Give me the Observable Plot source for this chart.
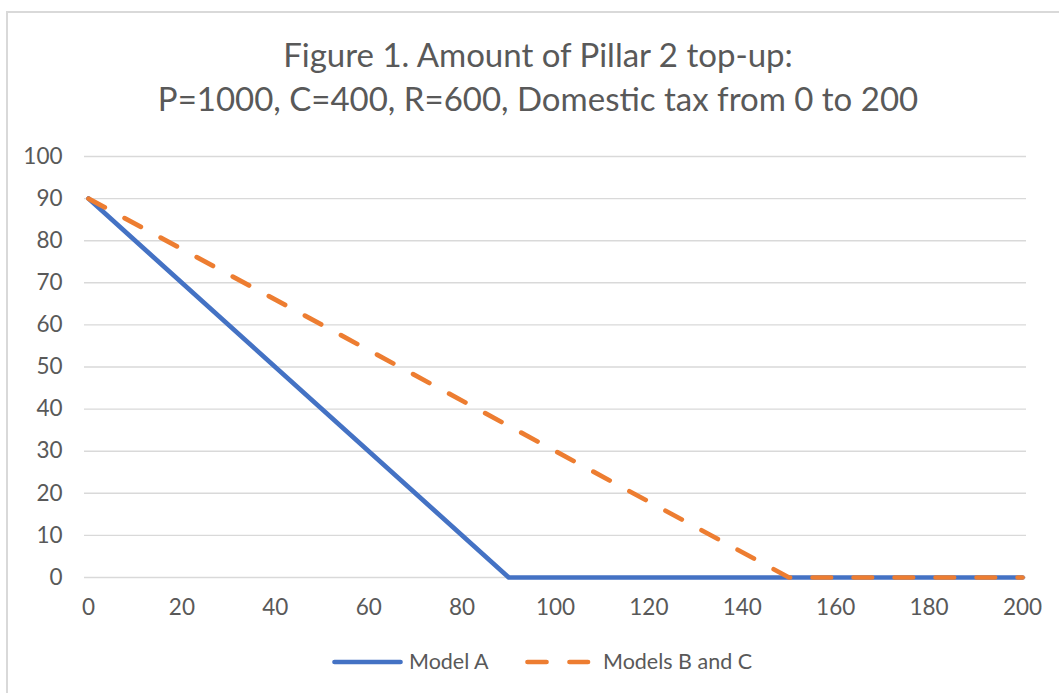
<!DOCTYPE html>
<html>
<head>
<meta charset="utf-8">
<script src="https://cdn.jsdelivr.net/npm/d3@7"></script>
<script src="https://cdn.jsdelivr.net/npm/@observablehq/plot@0.6"></script>
<style>
  html, body { margin: 0; padding: 0; background: #fff; }
  #wrap { position: relative; width: 1059px; height: 693px; overflow: hidden; font-family: Lato, "Open Sans", sans-serif; }
  #border { position: absolute; left: 6px; top: 11px; width: 1100px; height: 720px; border: 2px solid #d9d9d9; box-sizing: border-box; }
  .title { position: absolute; left: 0; width: 1076px; text-align: center; font-size: 33px; line-height: 44px; color: #595959; white-space: nowrap; }
  #chart { position: absolute; left: 0; top: 0; }
  #legend { position: absolute; left: 0; top: 640px; }
</style>
</head>
<body>
<div id="wrap">
  <div id="border"></div>
  <div id="chart"></div>
  <div class="title" id="t1" style="top:32px"></div>
  <div class="title" id="t2" style="top:76px"></div>
  <svg id="legend" width="1059" height="45"></svg>
</div>
<script>
const titleLines = ["Figure 1. Amount of Pillar 2 top-up:", "P=1000, C=400, R=600, Domestic tax from 0 to 200"];
const seriesNames = ["Model A", "Models B and C"];
const seriesColors = ["#4472C4", "#ED7D31"];
const xTicks = [0, 20, 40, 60, 80, 100, 120, 140, 160, 180, 200];
const yTicks = [0, 10, 20, 30, 40, 50, 60, 70, 80, 90, 100];
// Domestic tax (x) and top-up (y)
const modelAX = [0, 90, 200];
const modelAY = [90, 0, 0];
const modelBCX = [0, 150, 200];
const modelBCY = [90, 0, 0];

document.getElementById("t1").textContent = titleLines[0];
document.getElementById("t2").textContent = titleLines[1];

const modelA = modelAX.map((x, i) => ({x, y: modelAY[i]}));
const modelBC = modelBCX.map((x, i) => ({x, y: modelBCY[i]}));

const chart = Plot.plot({
  width: 1059,
  height: 693,
  marginLeft: 88,
  marginRight: 37,
  marginTop: 156,
  marginBottom: 116,
  style: { fontFamily: "Lato, 'Open Sans', sans-serif", fontSize: "22.5px", color: "#595959", background: "transparent", overflow: "visible" },
  x: { domain: [0, 200] },
  y: { domain: [0, 100] },
  marks: [
    Plot.ruleY(yTicks, { stroke: "#d9d9d9", strokeWidth: 1.4, insetLeft: -4, insetRight: -4 }),
    Plot.axisY(yTicks, { tickSize: 0, tickPadding: 26, label: null, fontSize: 22.5 }),
    Plot.axisX(xTicks, { tickSize: 0, tickPadding: 22, label: null, fontSize: 22.5 }),
    Plot.line(modelA, { x: "x", y: "y", stroke: seriesColors[0], strokeWidth: 4.7, strokeLinecap: "round", strokeLinejoin: "round" }),
    Plot.line(modelBC, { x: "x", y: "y", stroke: seriesColors[1], strokeWidth: 4.7, strokeLinecap: "round", strokeLinejoin: "round", strokeDasharray: "18.5,22.5" })
  ]
});
document.getElementById("chart").appendChild(chart);

// legend
const lg = d3.select("#legend");
const items = [
  { x1: 334.5, x2: 400.5, tx: 409, dash: null },
  { x1: 527.5, x2: 588, tx: 603, dash: "19,23" }
];
items.forEach((it, i) => {
  lg.append("line").attr("x1", it.x1).attr("x2", it.x2).attr("y1", 22).attr("y2", 22)
    .attr("stroke", seriesColors[i]).attr("stroke-width", 4.7).attr("stroke-linecap", "round")
    .attr("stroke-dasharray", it.dash);
  lg.append("text").attr("x", it.tx).attr("y", 29).attr("fill", "#595959")
    .attr("font-family", "Lato, 'Open Sans', sans-serif").attr("font-size", 21.5).text(seriesNames[i]);
});
</script>
</body>
</html>
